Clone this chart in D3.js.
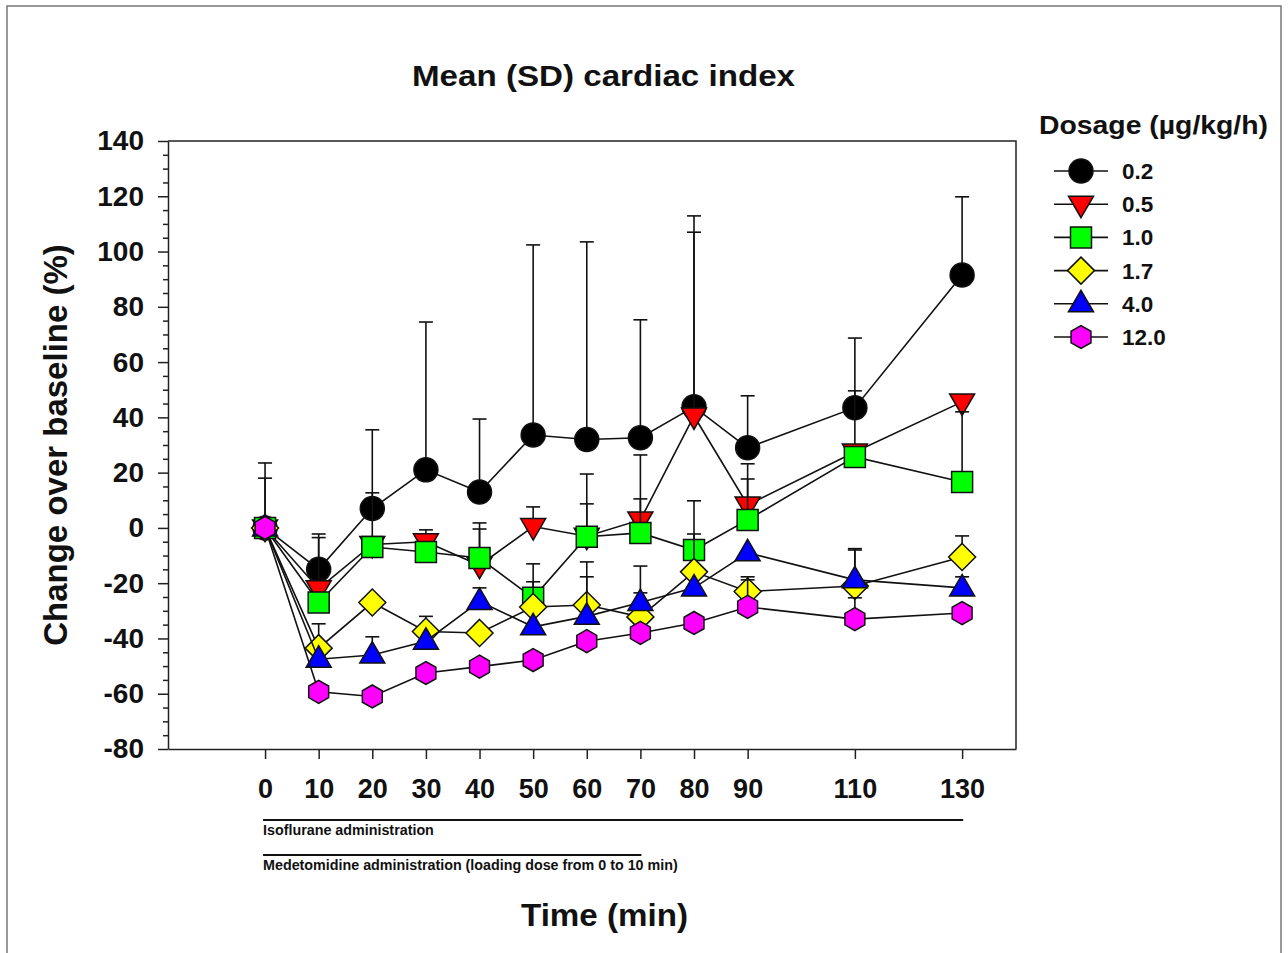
<!DOCTYPE html>
<html>
<head>
<meta charset="utf-8">
<script src="https://cdn.jsdelivr.net/npm/d3@7"></script>
<style>
  body { margin: 0; background: #fff; }
  svg text { font-family: Arial, "Liberation Sans", sans-serif; font-weight: bold; }
</style>
</head>
<body>
<svg id="chart"></svg>
<script>
// data
var times = [0, 10, 20, 30, 40, 50, 60, 70, 80, 90, 110, 130];
var doseLabels = ['0.2', '0.5', '1.0', '1.7', '4.0', '12.0'];

var mean02 = [0, -15, 7, 21, 13, 33.6, 32, 32.6, 43.8, 29, 43.5, 91.5];
var sd02   = [23.5, 12.8, 28.5, 53.5, 26.4, 68.8, 71.5, 42.7, 69.1, 18.8, 25.2, 28.3];
var mean05 = [0, -22, -6, -5, -13.5, 0.5, -3, 2.9, 40.5, 8.3, 27.5, 45.6];
var sd05   = [18, 18.5, null, 4.3, 15.3, 7.1, 22.5, 23.5, 66.5, 14.9, 22.1, null];
var mean10 = [0, -27, -6.9, -8.7, -10.9, -25.3, -3.2, -1.8, -8, 2.9, 25.7, 16.6];
var sd10   = [null, null, 19.6, null, 10.5, 12.3, 11.9, 12.3, 17.8, 14.8, null, 25.4];
var mean17 = [0, -43.5, -27, -37.5, -38, -28.6, -27.9, -32.2, -15.9, -23, -21, -10.5];
var sd17   = [null, 8.8, null, 5.5, null, 9.1, 15.6, 18.4, 13.7, 5.3, 13, 7.6];
var mean40 = [0, -47.5, -46, -41, -26.6, -35.8, -32, -27, -21.7, -9, -18.8, -21.7];
var sd40   = [null, null, 6.6, null, 4.9, null, 14.3, 3.5, null, null, 11.3, 4];
var mean120 = [0, -59.3, -61, -52.5, -50.2, -47.8, -41, -38, -34.4, -28.6, -33, -30.8];
var sd120   = [null, null, null, null, null, null, null, null, null, 9.8, 7.7, null];

var yMajor = [-80, -60, -40, -20, 0, 20, 40, 60, 80, 100, 120, 140];

var series = [
    { label: doseLabels[0], mean: mean02, sd: sd02, shape: 'circle', fill: '#000000' },
    { label: doseLabels[1], mean: mean05, sd: sd05, shape: 'tridown', fill: '#ff0000' },
    { label: doseLabels[2], mean: mean10, sd: sd10, shape: 'square', fill: '#00ff00' },
    { label: doseLabels[3], mean: mean17, sd: sd17, shape: 'diamond', fill: '#ffff00' },
    { label: doseLabels[4], mean: mean40, sd: sd40, shape: 'triup', fill: '#0000ff' },
    { label: doseLabels[5], mean: mean120, sd: sd120, shape: 'hexagon', fill: '#ff00ff' }
];

var width = 1288;
var height = 953;

var svg = d3.select('#chart')
    .attr('width', width)
    .attr('height', height);

// outer frame
svg.append('rect')
    .attr('x', 7).attr('y', 6)
    .attr('width', 1274).attr('height', 960)
    .attr('fill', 'none')
    .attr('stroke', '#777')
    .attr('stroke-width', 1.5);

var plot = { left: 168, right: 1016, top: 141, bottom: 749 };

var x = d3.scaleLinear().domain([-18.1, 140.05]).range([plot.left, plot.right]);
var y = d3.scaleLinear().domain([-80, 140]).range([plot.bottom, plot.top]);

// plot box (top and right sides)
svg.append('path')
    .attr('d', 'M' + plot.left + ',' + plot.top + 'H' + plot.right + 'V' + plot.bottom)
    .attr('fill', 'none')
    .attr('stroke', '#222')
    .attr('stroke-width', 1.5);

// y axis: minor ticks then major ticks
var yMinor = d3.range(-80, 141, 5).filter(function(v) { return v % 20 !== 0; });
svg.append('g')
    .attr('transform', 'translate(' + plot.left + ',0)')
    .call(d3.axisLeft(y).tickValues(yMinor).tickSize(5).tickFormat(''))
    .call(function(g) { g.select('.domain').remove(); })
    .selectAll('line').attr('stroke', '#222').attr('stroke-width', 1.5);

var yAxis = svg.append('g')
    .attr('transform', 'translate(' + plot.left + ',0)')
    .call(d3.axisLeft(y).tickValues(yMajor).tickSize(10).tickSizeOuter(0).tickPadding(14)
        .tickFormat(function(d) { return String(d); }));
yAxis.select('.domain').attr('stroke', '#222').attr('stroke-width', 1.5);
yAxis.selectAll('.tick line').attr('stroke', '#222').attr('stroke-width', 1.5);
yAxis.selectAll('text')
    .attr('font-size', 28)
    .attr('fill', '#111')
    .attr('font-family', 'Arial, "Liberation Sans", sans-serif')
    .attr('font-weight', 'bold');

// x axis
var xAxis = svg.append('g')
    .attr('transform', 'translate(0,' + plot.bottom + ')')
    .call(d3.axisBottom(x).tickValues(times).tickSize(10).tickSizeOuter(0).tickPadding(20));
xAxis.select('.domain').attr('stroke', '#222').attr('stroke-width', 1.5);
xAxis.selectAll('.tick line').attr('stroke', '#222').attr('stroke-width', 1.5);
xAxis.selectAll('text')
    .attr('font-size', 27)
    .attr('fill', '#111')
    .attr('font-family', 'Arial, "Liberation Sans", sans-serif')
    .attr('font-weight', 'bold');

// marker path generator
function markerPath(shape) {
    var r = 11.5;
    switch (shape) {
        case 'circle':
            return d3.symbol().type(d3.symbolCircle).size(Math.PI * 12 * 12)();
        case 'square':
            return 'M-10.5,-10.5H10.5V10.5H-10.5Z';
        case 'diamond':
            return 'M0,-13.5L13.5,0L0,13.5L-13.5,0Z';
        case 'triup':
            return 'M0,-13.5L12.5,8L-12.5,8Z';
        case 'tridown':
            return 'M0,13.5L12.5,-8L-12.5,-8Z';
        case 'hexagon':
            var pts = d3.range(6).map(function(i) {
                var a = Math.PI / 3 * i + Math.PI / 6;
                return [r * Math.cos(a), r * Math.sin(a)];
            });
            return 'M' + pts.join('L') + 'Z';
    }
}

var line = d3.line()
    .x(function(d) { return x(d.t); })
    .y(function(d) { return y(d.v); });

series.forEach(function(s) {
    var pts = times.map(function(t, i) { return { t: t, v: s.mean[i], sd: s.sd[i] }; });
    var g = svg.append('g');

    g.append('path')
        .datum(pts)
        .attr('d', line)
        .attr('fill', 'none')
        .attr('stroke', '#111')
        .attr('stroke-width', 1.6);

    var bars = pts.filter(function(d) { return d.sd !== null; });
    g.selectAll('line.err')
        .data(bars)
        .enter().append('line')
        .attr('x1', function(d) { return x(d.t); })
        .attr('x2', function(d) { return x(d.t); })
        .attr('y1', function(d) { return y(d.v); })
        .attr('y2', function(d) { return y(d.v + d.sd); })
        .attr('stroke', '#111')
        .attr('stroke-width', 1.6);
    g.selectAll('line.cap')
        .data(bars)
        .enter().append('line')
        .attr('x1', function(d) { return x(d.t) - 7; })
        .attr('x2', function(d) { return x(d.t) + 7; })
        .attr('y1', function(d) { return y(d.v + d.sd); })
        .attr('y2', function(d) { return y(d.v + d.sd); })
        .attr('stroke', '#111')
        .attr('stroke-width', 1.6);

    g.selectAll('path.mk')
        .data(pts)
        .enter().append('path')
        .attr('d', markerPath(s.shape))
        .attr('transform', function(d) { return 'translate(' + x(d.t) + ',' + y(d.v) + ')'; })
        .attr('fill', s.fill)
        .attr('stroke', '#111')
        .attr('stroke-width', 1.5);
});

// title and axis labels
svg.append('text')
    .attr('x', 412).attr('y', 86)
    .attr('font-size', 30)
    .attr('textLength', 383)
    .attr('lengthAdjust', 'spacingAndGlyphs')
    .attr('fill', '#111')
    .text('Mean (SD) cardiac index');

svg.append('text')
    .attr('transform', 'translate(67,445) rotate(-90)')
    .attr('text-anchor', 'middle')
    .attr('font-size', 33)
    .attr('fill', '#111')
    .text('Change over baseline (%)');

svg.append('text')
    .attr('x', 521).attr('y', 926)
    .attr('font-size', 32)
    .attr('textLength', 167)
    .attr('lengthAdjust', 'spacingAndGlyphs')
    .attr('fill', '#111')
    .text('Time (min)');

// administration bars under the x axis
var admin = [
    { from: 0, to: 130, yPos: 820, text: 'Isoflurane administration' },
    { from: 0, to: 70, yPos: 855, text: 'Medetomidine administration (loading dose from 0 to 10 min)' }
];
admin.forEach(function(a) {
    svg.append('line')
        .attr('x1', x(a.from) - 2).attr('x2', x(a.to) + 1)
        .attr('y1', a.yPos).attr('y2', a.yPos)
        .attr('stroke', '#111')
        .attr('stroke-width', 2);
    svg.append('text')
        .attr('x', x(a.from) - 2).attr('y', a.yPos + 15)
        .attr('font-size', 14.3)
        .attr('fill', '#111')
        .text(a.text);
});

// legend
svg.append('text')
    .attr('x', 1039).attr('y', 134)
    .attr('font-size', 26)
    .attr('textLength', 229)
    .attr('lengthAdjust', 'spacingAndGlyphs')
    .attr('fill', '#111')
    .text('Dosage (\u00b5g/kg/h)');

var legendY = d3.scaleLinear().domain([0, 5]).range([171, 337]);
var legend = svg.append('g')
    .selectAll('g')
    .data(series)
    .enter().append('g')
    .attr('transform', function(d, i) { return 'translate(0,' + legendY(i) + ')'; });

legend.append('line')
    .attr('x1', 1054).attr('x2', 1108)
    .attr('stroke', '#111')
    .attr('stroke-width', 1.6);
legend.append('path')
    .attr('d', function(d) { return markerPath(d.shape); })
    .attr('transform', 'translate(1081,0)')
    .attr('fill', function(d) { return d.fill; })
    .attr('stroke', '#111')
    .attr('stroke-width', 1.5);
legend.append('text')
    .attr('x', 1122).attr('y', 8)
    .attr('font-size', 22.5)
    .attr('fill', '#111')
    .text(function(d) { return d.label; });
</script>
</body>
</html>
